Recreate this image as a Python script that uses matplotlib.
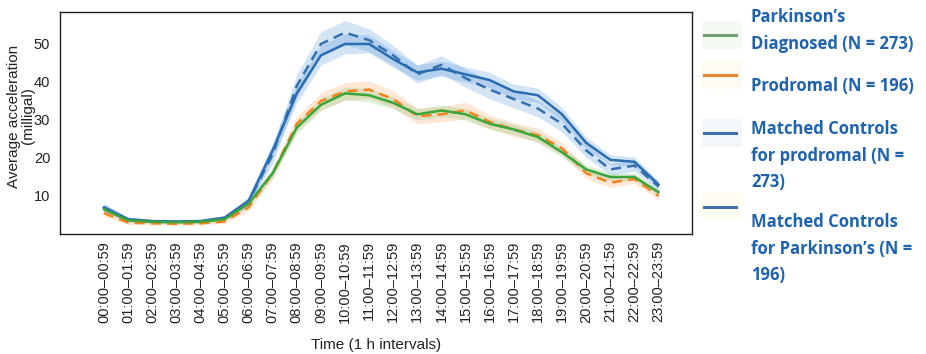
import matplotlib
matplotlib.use("Agg")
import matplotlib.pyplot as plt
from matplotlib.lines import Line2D
from matplotlib.patches import Rectangle
import numpy as np

hours = list(range(24))
tick_labels = [f"{h:02d}:00\u2013{h:02d}:59" for h in hours]

# mean hourly acceleration (milligal)
pd_diag = [6.5, 3.6, 3.2, 3.1, 3.2, 3.9, 8.0, 16.0, 28.0, 34.0, 37.0, 36.5, 34.5, 31.5,
           32.5, 31.5, 29.0, 27.5, 25.5, 21.5, 17.0, 15.0, 15.0, 11.0]
prodromal = [5.5, 3.0, 2.8, 2.7, 2.8, 3.3, 7.0, 16.0, 29.0, 35.0, 37.5, 38.0, 35.5, 31.0,
             31.5, 32.5, 29.5, 27.5, 26.0, 22.5, 16.0, 13.5, 14.5, 10.0]
ctrl_prodromal = [7.0, 3.8, 3.3, 3.2, 3.3, 4.1, 8.5, 21.0, 39.0, 50.0, 53.0, 51.0, 47.0, 42.0,
                  44.5, 41.0, 38.0, 35.5, 33.0, 29.0, 22.0, 17.0, 18.0, 12.5]
ctrl_pd = [7.0, 3.9, 3.4, 3.3, 3.4, 4.3, 8.7, 22.0, 37.0, 47.0, 50.0, 50.0, 46.0, 42.5,
           43.5, 42.0, 40.5, 37.5, 36.5, 31.5, 24.0, 19.5, 19.0, 13.0]

# half-width of the shaded confidence bands
ci_pd = [0.7, 0.4, 0.3, 0.3, 0.3, 0.4, 0.8, 1.2, 1.5, 1.6, 1.7, 1.7, 1.6, 1.5,
         1.5, 1.5, 1.4, 1.4, 1.4, 1.3, 1.2, 1.0, 1.0, 0.8]
ci_prod = [0.8, 0.5, 0.4, 0.4, 0.4, 0.5, 1.0, 1.5, 2.0, 2.2, 2.3, 2.3, 2.2, 2.0,
           2.0, 2.2, 1.8, 1.8, 1.8, 1.6, 1.4, 1.2, 1.2, 1.0]
ci_ctrl_prod = [1.0, 0.6, 0.5, 0.5, 0.5, 0.6, 1.2, 2.5, 3.0, 3.2, 3.2, 3.0, 2.6, 2.4,
                2.4, 2.4, 2.4, 2.3, 2.2, 2.1, 1.8, 1.5, 1.5, 1.2]
ci_ctrl_pd = [0.9, 0.5, 0.4, 0.4, 0.4, 0.5, 1.0, 2.0, 2.5, 2.6, 2.6, 2.4, 2.2, 2.0,
              2.0, 2.0, 2.0, 1.9, 1.9, 1.8, 1.5, 1.3, 1.3, 1.0]

legend_labels = ["Parkinson\u2019s\nDiagnosed (N = 273)",
                 "Prodromal (N = 196)",
                 "Matched Controls\nfor prodromal (N =\n273)",
                 "Matched Controls\nfor Parkinson\u2019s (N =\n196)"]

GREEN = "#3aa53a"
ORANGE = "#f58220"
BLUE = "#2a6db3"
BLUE_D = "#3470b0"

fig = plt.figure(figsize=(9.26, 3.54), dpi=100)
fig.patch.set_facecolor("white")
ax = fig.add_axes([0.0648, 0.339, 0.682, 0.627])

x = np.array(hours)

def band(vals, ci, color, alpha):
    v = np.array(vals)
    c = np.array(ci)
    ax.fill_between(x, v - c, v + c, color=color, alpha=alpha, lw=0)

band(ctrl_prodromal, ci_ctrl_prod, "#4a90d9", 0.24)
band(ctrl_pd, ci_ctrl_pd, "#4a90d9", 0.24)
band(prodromal, ci_prod, "#f8a060", 0.25)
band(pd_diag, ci_pd, "#7cc46a", 0.25)

ax.plot(x, ctrl_prodromal, color=BLUE_D, lw=1.8, ls=(0, (4, 2.5)))
ax.plot(x, ctrl_pd, color=BLUE, lw=1.8)
ax.plot(x, prodromal, color=ORANGE, lw=1.8, ls=(0, (4, 2.5)))
ax.plot(x, pd_diag, color=GREEN, lw=1.8)

ax.set_xlim(-1.82, 24.37)
ax.set_ylim(0, 58.4)
ax.set_yticks([10, 20, 30, 40, 50])
ax.set_xticks(hours)
ax.set_xticklabels(tick_labels, rotation=90, fontsize=10.5, color="#222222",
                   family="Liberation Sans")
for lab in ax.get_yticklabels():
    lab.set_fontsize(10.5)
    lab.set_color("#222222")
    lab.set_family("Liberation Sans")
ax.tick_params(axis="y", length=0, pad=7)
ax.tick_params(axis="x", length=0, pad=5)
for s in ax.spines.values():
    s.set_linewidth(1.0)
    s.set_color("#222222")

fig.text(21 / 926, 1 - 116 / 354, "Average acceleration\n(milligal)", rotation=90,
         ha="center", va="center", fontsize=11, family="Liberation Sans",
         color="#222222", linespacing=1.0)
ax.set_xlabel("Time (1 h intervals)", fontsize=11, family="Liberation Sans",
              color="#222222", labelpad=11)

# legend keys and labels
W, H = 926, 354
key_colors = [("#6f9f6f", "#f3faf1"), ("#e8862e", "#fffaf2"),
              ("#3f6fa8", "#f3f7fc"), ("#3f6fa8", "#fffcf4")]
key_y = [35, 75, 133, 207]
text_top = [8, 77, 120, 213]
for (lc, bg), ky, ty, lab in zip(key_colors, key_y, text_top, legend_labels):
    fig.add_artist(Rectangle((702 / W, 1 - (ky + 14) / H), 40 / W, 28 / H,
                             transform=fig.transFigure, color=bg, lw=0))
    fig.add_artist(Line2D([704 / W, 736 / W], [1 - ky / H, 1 - ky / H],
                          transform=fig.transFigure, color=lc, lw=2.2))
    fig.text(751 / W, 1 - ty / H, lab, ha="left", va="top", fontsize=12,
             family="Open Sans", weight="bold", color="#1f62b0", linespacing=1.62)

fig.savefig("out.png", dpi=100, facecolor="white")
